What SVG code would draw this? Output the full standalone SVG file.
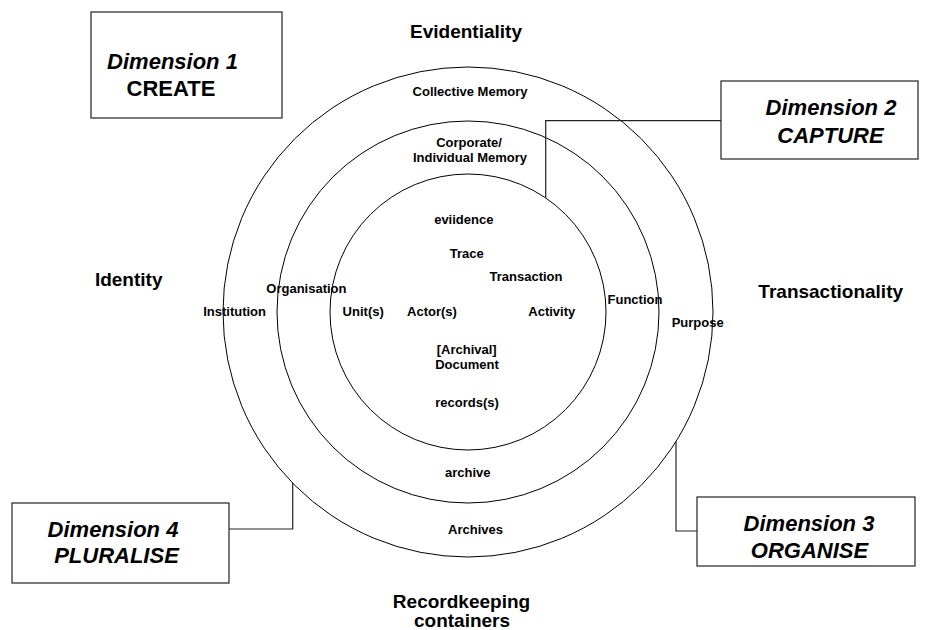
<svg xmlns="http://www.w3.org/2000/svg" width="927" height="630" viewBox="0 0 927 630">
<style>
text{font-family:"Liberation Sans",Arial,sans-serif;font-weight:bold;fill:#000;text-anchor:middle}
.s{font-size:13px}
.b{font-size:19px}
.d{font-size:22px;font-style:italic}
.u{font-size:22px}
.box{fill:#fff;stroke:#222;stroke-width:1.2}
.ring{fill:none;stroke:#000;stroke-width:1}
.con{fill:none;stroke:#222;stroke-width:1.2}
</style>
<rect width="927" height="630" fill="#fff"/>
<g id="rings">
<circle class="ring" cx="468" cy="312" r="245"/>
<circle class="ring" cx="468" cy="312" r="191"/>
<circle class="ring" cx="468" cy="312" r="138"/>
</g>
<g id="connectors">
<polyline class="con" points="545.7,198 545.7,120.7 721,120.7"/>
<polyline class="con" points="229,529 292.7,529 292.7,483"/>
<polyline class="con" points="697,531 676,531 676,441.5"/>
</g>
<g id="dim1">
<rect class="box" x="91" y="12" width="191" height="106"/>
<text class="d" x="172.5" y="69">Dimension 1</text>
<text class="u" x="171" y="96">CREATE</text>
</g>
<g id="dim2">
<rect class="box" x="721" y="81" width="197" height="78"/>
<text class="d" x="831" y="115">Dimension 2</text>
<text class="d" x="830.5" y="142.7">CAPTURE</text>
</g>
<g id="dim3">
<rect class="box" x="697" y="497" width="218" height="69"/>
<text class="d" x="809" y="531">Dimension 3</text>
<text class="d" x="809.5" y="558">ORGANISE</text>
</g>
<g id="dim4">
<rect class="box" x="12" y="503" width="217" height="80"/>
<text class="d" x="113" y="537">Dimension 4</text>
<text class="d" x="116.5" y="562.7">PLURALISE</text>
</g>
<g id="axes">
<text class="b" x="466" y="37.7">Evidentiality</text>
<text class="b" x="128.7" y="286">Identity</text>
<text class="b" x="830.7" y="297.7">Transactionality</text>
<text class="b" x="461.5" y="607.5">Recordkeeping</text>
<text class="b" x="462" y="626.5">containers</text>
</g>
<g id="labels">
<text class="s" x="470" y="96">Collective Memory</text>
<text class="s" x="469" y="147.3">Corporate/</text>
<text class="s" x="470" y="162">Individual Memory</text>
<text class="s" x="463.8" y="224.3">eviidence</text>
<text class="s" x="466.8" y="257.7">Trace</text>
<text class="s" x="526" y="281">Transaction</text>
<text class="s" x="306.4" y="292.7">Organisation</text>
<text class="s" x="234.6" y="315.7">Institution</text>
<text class="s" x="363.2" y="315.7">Unit(s)</text>
<text class="s" x="432" y="315.7">Actor(s)</text>
<text class="s" x="551.8" y="315.7">Activity</text>
<text class="s" x="635" y="304">Function</text>
<text class="s" x="697.7" y="327.3">Purpose</text>
<text class="s" x="466.7" y="353.5">[Archival]</text>
<text class="s" x="467" y="369.3">Document</text>
<text class="s" x="467" y="407">records(s)</text>
<text class="s" x="467.7" y="477.3">archive</text>
<text class="s" x="475.5" y="534">Archives</text>
</g>
</svg>
